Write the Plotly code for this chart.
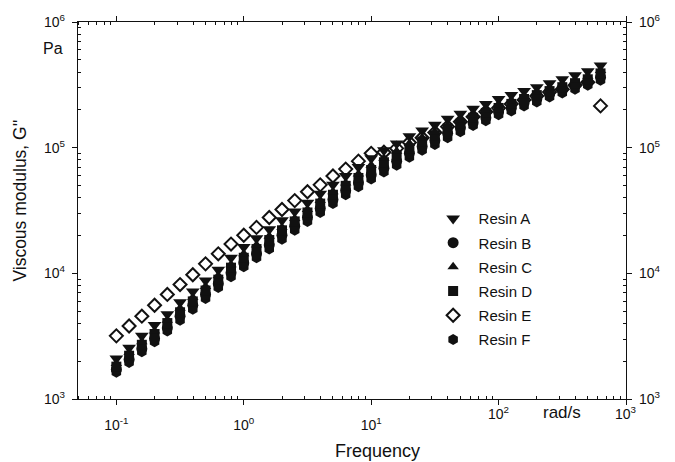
import math

import plotly.graph_objects as go

# Oscillatory frequency sweep, rad/s
freq = [0.1, 0.1259, 0.1585, 0.1995, 0.2512, 0.3162, 0.3981, 0.5012, 0.631, 0.7943,
        1, 1.259, 1.585, 1.995, 2.512, 3.162, 3.981, 5.012, 6.31, 7.943,
        10, 12.59, 15.85, 19.95, 25.12, 31.62, 39.81, 50.12, 63.1, 79.43,
        100, 125.9, 158.5, 199.5, 251.2, 316.2, 398.1, 501.2, 631]

# Viscous modulus G'' (Pa) for each resin
resin_a = [2100, 2560, 3180, 3880, 4730, 5880, 7170, 8750, 10700, 13300,
           16200, 19000, 22400, 26400, 31000, 36500, 43000, 50600, 59500, 70100,
           82500, 95200, 108000, 123000, 137000, 152000, 170000, 186000, 204000, 223000,
           244000, 262000, 282000, 303000, 326000, 350000, 377000, 405000, 451000]
resin_b = [1720, 2060, 2510, 3010, 3670, 4560, 5560, 6790, 8280, 10100,
           12100, 14300, 16800, 20100, 23700, 27800, 32800, 38600, 45400, 52400,
           60600, 68700, 78000, 90200, 102000, 114000, 130000, 144000, 158000, 173000,
           193000, 207000, 227000, 244000, 267000, 287000, 309000, 332000, 363000]
resin_c = [1920, 2340, 2850, 3480, 4240, 5270, 6430, 7850, 9570, 11700,
           14300, 16800, 19700, 23200, 27300, 32200, 37900, 44600, 52400, 61700,
           72600, 82400, 93500, 108000, 120000, 134000, 150000, 167000, 183000, 200000,
           219000, 235000, 258000, 277000, 298000, 320000, 344000, 370000, 412000]
resin_d = [1810, 2210, 2700, 3290, 4020, 4900, 5980, 7300, 8910, 11100,
           13300, 15600, 18400, 22000, 25900, 30500, 35900, 42200, 49700, 57400,
           66400, 76600, 87000, 98700, 112000, 125000, 142000, 155000, 173000, 189000,
           207000, 223000, 244000, 262000, 282000, 303000, 326000, 350000, 390000]
resin_e = [3180, 3810, 4560, 5570, 6790, 8140, 9750, 11900, 14300, 17100,
           20100, 23200, 27800, 32200, 37900, 44600, 50600, 59500, 67500, 78100,
           90200, 91900, 98700, 110000, 120000, 132000, 147000, 161000, 176000, 193000,
           207000, 223000, 240000, 258000, 277000, 292000, 314000, 332000, 215000]
resin_f = [1630, 1950, 2380, 2850, 3480, 4240, 5180, 6310, 7700, 9400,
           11300, 13300, 15600, 18700, 22000, 25900, 30500, 35900, 42200, 48800,
           56400, 63900, 72600, 83900, 95200, 106000, 120000, 134000, 150000, 164000,
           183000, 196000, 215000, 231000, 253000, 272000, 292000, 314000, 344000]

# bottom axis: the lower decades are labelled by the axis, the upper two
# share a line with the unit label
x_ticks = [0.1, 1, 10, 100, 1000]
x_ticktext = ["10<sup>-1</sup>", "10<sup>0</sup>", "10<sup>1</sup>", "", ""]
x_upper = [100, 1000]
x_upper_text = ["10<sup>2</sup>", "10<sup>3</sup>"]
y_ticks = [1e3, 1e4, 1e5, 1e6]
y_ticktext = ["10<sup>3</sup>", "10<sup>4</sup>", "10<sup>5</sup>", "10<sup>6</sup>"]

x_minor = [m * 10 ** e for e in range(-2, 3) for m in range(2, 10) if 0.05 <= m * 10 ** e <= 1000]
y_minor = [m * 10 ** e for e in range(3, 6) for m in range(2, 10)]

FONT = "Liberation Sans, Arial, Helvetica, sans-serif"
INK = "#111111"

fig = go.Figure()

# hollow diamonds go underneath so the filled markers sit on top of them
series = [
    ("Resin E", resin_e, "diamond", 10, 5),
    ("Resin A", resin_a, "triangle-down", 12, 1),
    ("Resin F", resin_f, "hexagon", 11, 6),
    ("Resin B", resin_b, "circle", 11, 2),
    ("Resin D", resin_d, "square", 10, 4),
    ("Resin C", resin_c, "triangle-up", 10, 3),
]
for name, vals, sym, size, rank in series:
    hollow = sym == "diamond"
    fig.add_trace(go.Scatter(
        x=freq, y=vals, mode="markers", name=name, legendrank=rank,
        legendgroup=name,
        marker=dict(symbol=sym, size=size,
                    color="white" if hollow else INK,
                    line=dict(color=INK, width=2 if hollow else 0)),
    ))

# companion trace so the right-hand axis is laid out
fig.add_trace(go.Scatter(x=freq, y=resin_a, yaxis="y2", mode="markers",
                         marker=dict(opacity=0), showlegend=False, hoverinfo="skip"))

axis_common = dict(
    type="log", showgrid=False, zeroline=False, showline=True,
    linecolor=INK, linewidth=1.3, ticks="outside", ticklen=5, tickwidth=1.3,
    tickcolor=INK, tickfont=dict(family=FONT, size=14, color=INK),
)
minor_common = dict(ticks="inside", ticklen=3, tickwidth=1, tickcolor=INK)

annotations = [
    dict(text="Pa", xref="paper", yref="paper", x=-0.045, y=0.929,
         xanchor="center", yanchor="middle", showarrow=False,
         font=dict(family=FONT, size=16, color=INK)),
    dict(text="rad/s", xref="paper", yref="paper", x=0.883, y=-0.036,
         xanchor="center", yanchor="middle", showarrow=False,
         font=dict(family=FONT, size=17, color=INK)),
    dict(text="Frequency", xref="paper", yref="paper", x=0.546, y=-0.139,
         xanchor="center", yanchor="middle", showarrow=False,
         font=dict(family=FONT, size=18, color=INK)),
    dict(text="Viscous modulus, G''", xref="paper", yref="paper", x=-0.106, y=0.526,
         xanchor="center", yanchor="middle", textangle=-90, showarrow=False,
         font=dict(family=FONT, size=17.5, color=INK)),
]
for v, t in zip(x_upper, x_upper_text):
    annotations.append(dict(text=t, xref="x", yref="paper", x=math.log10(v),
                            y=-0.036, xanchor="center", yanchor="middle", showarrow=False,
                            font=dict(family=FONT, size=14, color=INK)))

fig.update_layout(
    width=675, height=462,
    margin=dict(l=78, r=49, t=17, b=63),
    paper_bgcolor="white", plot_bgcolor="white",
    font=dict(family=FONT, color=INK),
    xaxis=dict(**axis_common, range=[-1.301, 3], tickvals=x_ticks, ticktext=x_ticktext,
               mirror="ticks", ticklabelstandoff=8,
               minor=dict(**minor_common, tickvals=x_minor)),
    yaxis=dict(**axis_common, range=[3, 6], tickvals=y_ticks, ticktext=y_ticktext,
               ticklabelstandoff=4,
               minor=dict(**minor_common, tickvals=y_minor)),
    yaxis2=dict(**axis_common, range=[3, 6], tickvals=y_ticks, ticktext=y_ticktext,
                overlaying="y", side="right", anchor="x", ticklabelstandoff=4,
                minor=dict(**minor_common, tickvals=y_minor)),
    legend=dict(x=0.638, y=0.522, xanchor="left", yanchor="top",
                bgcolor="rgba(0,0,0,0)", borderwidth=0,
                font=dict(family=FONT, size=15, color=INK),
                traceorder="grouped", tracegroupgap=1.7, itemsizing="trace",
                itemwidth=41),
    annotations=annotations,
)

fig.write_html("out.html")
